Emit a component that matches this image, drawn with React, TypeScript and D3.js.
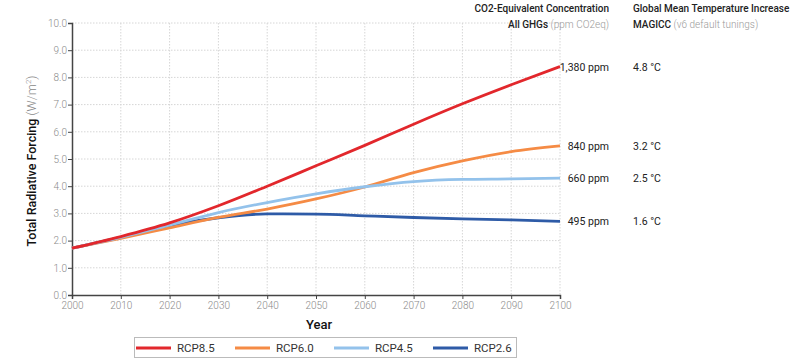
import React, { useEffect, useRef } from "react";
import * as d3 from "d3";

const years = [2000, 2010, 2020, 2030, 2040, 2050, 2060, 2070, 2080, 2090, 2100];
const rcp85 = [1.72, 2.15, 2.65, 3.28, 4.0, 4.75, 5.5, 6.28, 7.03, 7.73, 8.4];
const rcp60 = [1.72, 2.08, 2.47, 2.85, 3.16, 3.53, 3.97, 4.5, 4.93, 5.27, 5.48];
const rcp45 = [1.72, 2.12, 2.57, 3.03, 3.4, 3.72, 3.98, 4.17, 4.25, 4.27, 4.3];
const rcp26 = [1.72, 2.12, 2.55, 2.84, 2.98, 2.97, 2.91, 2.85, 2.8, 2.76, 2.71];
const seriesNames = ["RCP8.5", "RCP6.0", "RCP4.5", "RCP2.6"];
const seriesColors = ["#e2272c", "#f58b45", "#93c2eb", "#2e5ba7"];
const concentrations = ["1,380 ppm", "840 ppm", "660 ppm", "495 ppm"];
const temperatures = ["4.8 °C", "3.2 °C", "2.5 °C", "1.6 °C"];
const yTicks = [0, 1, 2, 3, 4, 5, 6, 7, 8, 9, 10];

const FONT = "Roboto, 'Liberation Sans', sans-serif";

export default function App() {
  const svgRef = useRef<SVGSVGElement | null>(null);

  useEffect(() => {
    if (!svgRef.current) return;
    const svg = d3.select(svgRef.current);
    svg.selectAll("*").remove();

    const x = d3.scaleLinear().domain([2000, 2100]).range([72, 560]);
    const y = d3.scaleLinear().domain([0, 10]).range([295, 23]);

    // grid
    const grid = svg.append("g");
    grid.selectAll(".vg")
      .data(years.slice(1))
      .enter()
      .append("line")
      .attr("x1", d => x(d)).attr("x2", d => x(d))
      .attr("y1", y(10)).attr("y2", y(0))
      .attr("stroke", "#d6d6d6")
      .attr("stroke-dasharray", "1.5,1.5");
    grid.selectAll(".hg")
      .data(yTicks.slice(1))
      .enter()
      .append("line")
      .attr("x1", x(2000)).attr("x2", x(2100))
      .attr("y1", d => y(d)).attr("y2", d => y(d))
      .attr("stroke", "#d6d6d6")
      .attr("stroke-dasharray", "1.5,1.5");

    // axes
    const yAxis = svg.append("g")
      .attr("transform", `translate(${x(2000)},0)`)
      .call(d3.axisLeft(y).tickValues(yTicks).tickSize(4).tickFormat(d3.format(".1f")));
    const xAxis = svg.append("g")
      .attr("transform", `translate(0,${y(0)})`)
      .call(d3.axisBottom(x).tickValues(years).tickSize(4).tickFormat(d3.format("d")));
    [yAxis, xAxis].forEach(a => {
      a.selectAll("path").attr("stroke", "#444").attr("stroke-width", 1.5);
      a.selectAll("line").attr("stroke", "#444");
      a.selectAll("text")
        .attr("fill", "#8a8a8a")
        .attr("font-family", FONT)
        .attr("font-size", 10)
        .attr("font-weight", 300);
    });
    yAxis.selectAll("text").attr("x", -5);
    xAxis.selectAll("text").attr("y", 7);

    // lines
    const allSeries = [rcp85, rcp60, rcp45, rcp26];
    const line = d3.line<number>()
      .x((_, i) => x(years[i]))
      .y(d => y(d))
      .curve(d3.curveMonotoneX);
    const drawOrder = [3, 1, 2, 0];
    drawOrder.forEach(i => {
      svg.append("path")
        .attr("d", line(allSeries[i]))
        .attr("fill", "none")
        .attr("stroke", seriesColors[i])
        .attr("stroke-width", 2.8);
    });

    // right annotations
    allSeries.forEach((s, i) => {
      const yy = y(s[s.length - 1]) + 4;
      svg.append("text")
        .attr("x", 609).attr("y", yy)
        .attr("text-anchor", "end")
        .attr("font-family", FONT).attr("font-size", 10.5).attr("font-weight", 400)
        .attr("fill", "#222")
        .text(concentrations[i]);
      svg.append("text")
        .attr("x", 633).attr("y", yy)
        .attr("font-family", FONT).attr("font-size", 10.5).attr("font-weight", 400)
        .attr("fill", "#222")
        .text(temperatures[i]);
    });

    // headers
    svg.append("text").attr("x", 609).attr("y", 12).attr("text-anchor", "end")
      .attr("font-family", FONT).attr("font-size", 10).attr("font-weight", 500).attr("fill", "#222")
      .text("CO2-Equivalent Concentration");
    const h2 = svg.append("text").attr("x", 609).attr("y", 28).attr("text-anchor", "end")
      .attr("font-family", FONT).attr("font-size", 10).attr("fill", "#222");
    h2.append("tspan").attr("font-weight", 500).text("All GHGs ");
    h2.append("tspan").attr("font-weight", 300).attr("fill", "#999").text("(ppm CO2eq)");
    svg.append("text").attr("x", 633).attr("y", 12)
      .attr("font-family", FONT).attr("font-size", 10).attr("font-weight", 500).attr("fill", "#222")
      .text("Global Mean Temperature Increase");
    const h4 = svg.append("text").attr("x", 633).attr("y", 28)
      .attr("font-family", FONT).attr("font-size", 10).attr("fill", "#222");
    h4.append("tspan").attr("font-weight", 500).text("MAGICC ");
    h4.append("tspan").attr("font-weight", 300).attr("fill", "#999").text("(v6 default tunings)");

    // axis titles
    const yt = svg.append("text")
      .attr("transform", `translate(36,${y(5) + 2}) rotate(-90)`)
      .attr("text-anchor", "middle")
      .attr("font-family", FONT).attr("font-size", 12.5).attr("fill", "#111");
    yt.append("tspan").attr("font-weight", 500).text("Total Radiative Forcing ");
    const unit = yt.append("tspan").attr("font-weight", 300).attr("fill", "#888");
    unit.append("tspan").text("(W/m");
    unit.append("tspan").attr("font-size", 8).attr("dy", -5).text("2");
    unit.append("tspan").attr("dy", 5).text(")");

    svg.append("text")
      .attr("x", 319).attr("y", 329)
      .attr("text-anchor", "middle")
      .attr("font-family", FONT).attr("font-size", 13).attr("font-weight", 500).attr("fill", "#111")
      .text("Year");

    // legend
    const lg = svg.append("g");
    lg.append("rect")
      .attr("x", 134.5).attr("y", 337.5).attr("width", 382).attr("height", 20)
      .attr("fill", "white").attr("stroke", "#bbb");
    const legendX = d3.scalePoint<string>().domain(seriesNames).range([136, 433]);
    seriesNames.forEach((n, i) => {
      const lx = legendX(n) as number;
      lg.append("line")
        .attr("x1", lx).attr("x2", lx + 35)
        .attr("y1", 348).attr("y2", 348)
        .attr("stroke", seriesColors[i]).attr("stroke-width", 3);
      lg.append("text")
        .attr("x", lx + 41).attr("y", 352)
        .attr("font-family", FONT).attr("font-size", 11.5).attr("fill", "#333")
        .text(n);
    });
  }, []);

  return (
    <svg
      ref={svgRef}
      width={794}
      height={364}
      style={{ position: "absolute", left: 0, top: 0, background: "white" }}
    />
  );
}
